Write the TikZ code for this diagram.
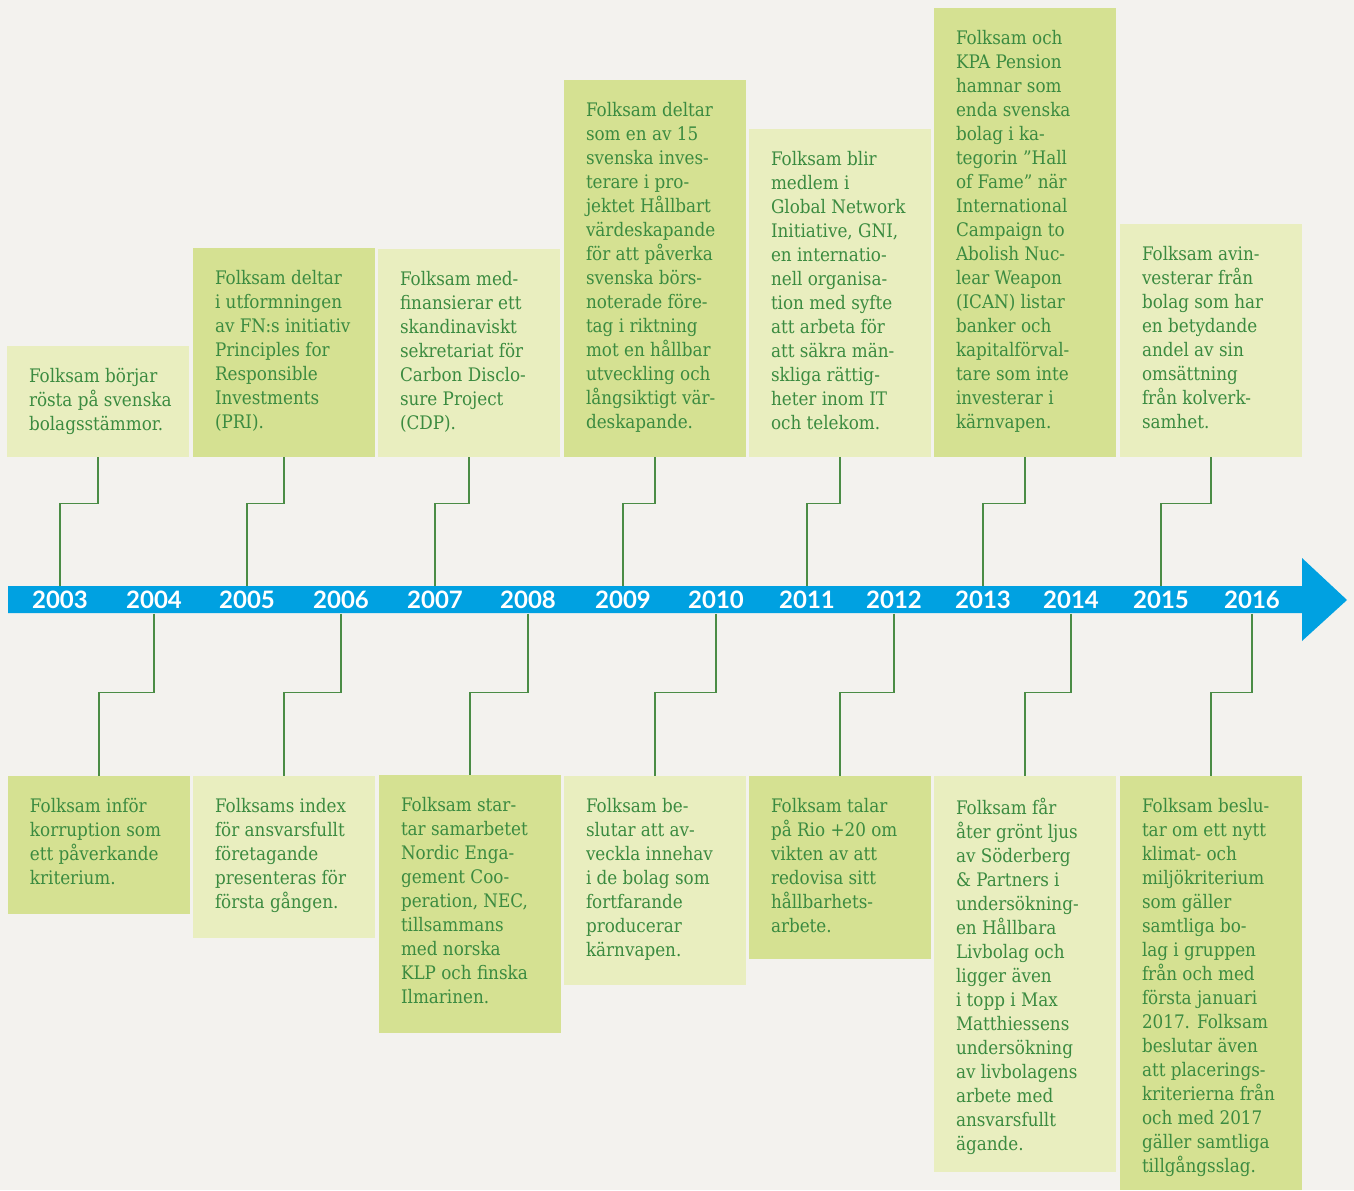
\documentclass[tikz,border=0pt]{standalone}
\usepackage{fontspec}
\newfontfamily\bodyfont{DejaVu Serif Condensed}
\newfontfamily\yearfont{Lato}
\usetikzlibrary{fit}
\definecolor{bgcol}{HTML}{F3F2EE}
\definecolor{lightbox}{HTML}{E9EEBF}
\definecolor{darkbox}{HTML}{D5E192}
\definecolor{txtgreen}{HTML}{3B8B40}
\definecolor{linkgreen}{HTML}{4A8C45}
\definecolor{axisblue}{HTML}{00A1E1}
\tikzset{
	boxlight/.style={fill=lightbox, inner sep=0pt},
	boxdark/.style={fill=darkbox, inner sep=0pt},
	txt/.style={anchor=north west, inner sep=0pt, align=left, text=txtgreen,
		font=\bodyfont\fontsize{14}{18}\selectfont},
	year/.style={text=white, inner sep=0pt, minimum height=20pt,
		font=\yearfont\bfseries\fontsize{18}{18}\selectfont},
	link/.style={draw=linkgreen, line width=1.1pt}
}

\begin{document}
\begin{tikzpicture}[x=0.75pt, y=-0.75pt]
	% IMAGE SIZE
	\useasboundingbox (0,0) rectangle (1354,1190);
	\fill[bgcol] (0,0) rectangle (1354,1190);
	
	% Upper boxes
	\node[boxlight, fit={(7,346) (189,457)}] (b03) {};
	\node[boxdark, fit={(193,248) (375,457)}] (b05) {};
	\node[boxlight, fit={(378,249) (560,457)}] (b07) {};
	\node[boxdark, fit={(564,80) (746,457)}] (b09) {};
	\node[boxlight, fit={(749,129) (931,457)}] (b11) {};
	\node[boxdark, fit={(934,8) (1116,457)}] (b13) {};
	\node[boxlight, fit={(1120,224) (1302,457)}] (b15) {};
	
	% Lower boxes
	\node[boxdark, fit={(8,776) (190,914)}] (b04) {};
	\node[boxlight, fit={(193,776) (375,938)}] (b06) {};
	\node[boxdark, fit={(379,775) (561,1033)}] (b08) {};
	\node[boxlight, fit={(564,776) (746,985)}] (b10) {};
	\node[boxdark, fit={(749,776) (931,959)}] (b12) {};
	\node[boxlight, fit={(934,776) (1116,1172)}] (b14) {};
	\node[boxdark, fit={(1120,776) (1302,1190)}] (b16) {};
	
	% Texts, upper row
	\node[txt] (t03) at ([shift={(22,22)}]b03.north west) {Folksam börjar\\rösta på svenska\\bolagsstämmor.};
	\node[txt] (t05) at ([shift={(22,22)}]b05.north west) {Folksam deltar\\i utformningen\\av FN:s initiativ\\Principles for\\Responsible\\Investments\\(PRI).};
	\node[txt] (t07) at ([shift={(22,22)}]b07.north west) {Folksam med-\\finansierar ett\\skandinaviskt\\sekretariat för\\Carbon Disclo-\\sure Project\\(CDP).};
	\node[txt] (t09) at ([shift={(22,22)}]b09.north west) {Folksam deltar\\som en av 15\\svenska inves-\\terare i pro-\\jektet Hållbart\\värdeskapande\\för att påverka\\svenska börs-\\noterade före-\\tag i riktning\\mot en hållbar\\utveckling och\\långsiktigt vär-\\deskapande.};
	\node[txt] (t11) at ([shift={(22,22)}]b11.north west) {Folksam blir\\medlem i\\Global Network\\Initiative, GNI,\\en internatio-\\nell organisa-\\tion med syfte\\att arbeta för\\att säkra män-\\skliga rättig-\\heter inom IT\\och telekom.};
	\node[txt] (t13) at ([shift={(22,22)}]b13.north west) {Folksam och\\KPA Pension\\hamnar som\\enda svenska\\bolag i ka-\\tegorin ”Hall\\of Fame” när\\International\\Campaign to\\Abolish Nuc-\\lear Weapon\\(ICAN) listar\\banker och\\kapitalförval-\\tare som inte\\investerar i\\kärnvapen.};
	\node[txt] (t15) at ([shift={(22,22)}]b15.north west) {Folksam avin-\\vesterar från\\bolag som har\\en betydande\\andel av sin\\omsättning\\från kolverk-\\samhet.};
	
	% Texts, lower row
	\node[txt] (t04) at ([shift={(22,22)}]b04.north west) {Folksam inför\\korruption som\\ett påverkande\\kriterium.};
	\node[txt] (t06) at ([shift={(22,22)}]b06.north west) {Folksams index\\för ansvarsfullt\\företagande\\presenteras för\\första gången.};
	\node[txt] (t08) at ([shift={(22,22)}]b08.north west) {Folksam star-\\tar samarbetet\\Nordic Enga-\\gement Coo-\\peration, NEC,\\tillsammans\\med norska\\KLP och finska\\Ilmarinen.};
	\node[txt] (t10) at ([shift={(22,22)}]b10.north west) {Folksam be-\\slutar att av-\\veckla innehav\\i de bolag som\\fortfarande\\producerar\\kärnvapen.};
	\node[txt] (t12) at ([shift={(22,22)}]b12.north west) {Folksam talar\\på Rio +20 om\\vikten av att\\redovisa sitt\\hållbarhets-\\arbete.};
	\node[txt] (t14) at ([shift={(22,22)}]b14.north west) {Folksam får\\åter grönt ljus\\av Söderberg\\\& Partners i\\undersökning-\\en Hållbara\\Livbolag och\\ligger även\\i topp i Max\\Matthiessens\\undersökning\\av livbolagens\\arbete med\\ansvarsfullt\\ägande.};
	\node[txt] (t16) at ([shift={(22,22)}]b16.north west) {Folksam beslu-\\tar om ett nytt\\klimat- och\\miljökriterium\\som gäller\\samtliga bo-\\lag i gruppen\\från och med\\första januari\\2017. Folksam\\beslutar även\\att placerings-\\kriterierna från\\och med 2017\\gäller samtliga\\tillgångsslag.};
	
	% Years
	\foreach \yr/\xx in {2003/60, 2004/154, 2005/247, 2006/341, 2007/435, 2008/528, 2009/623, 2010/716, 2011/807, 2012/894, 2013/983, 2014/1071, 2015/1161, 2016/1252}
	{
		\node[year] (y\yr) at (\xx,600) {\phantom{\yr}};
	}
	
	% Connectors
	\foreach \b/\y in {b03/y2003, b05/y2005, b07/y2007, b09/y2009, b11/y2011, b13/y2013, b15/y2015}
	{
		\draw[link] (\b.south) -- ++(0,46) -| (\y.north);
	}
	\foreach \b/\y in {b04/y2004, b06/y2006, b08/y2008, b10/y2010, b12/y2012, b14/y2014, b16/y2016}
	{
		\draw[link] (\y.south) -- ++(0,79) -| (\b.north);
	}
	
	% Time axis
	\fill[axisblue] (8,586) -- (1302,586) -- (1302,558) -- (1347,600) -- (1302,641) -- (1302,613) -- (8,613) -- cycle;
	\foreach \yr/\xx in {2003/60, 2004/154, 2005/247, 2006/341, 2007/435, 2008/528, 2009/623, 2010/716, 2011/807, 2012/894, 2013/983, 2014/1071, 2015/1161, 2016/1252}
	{
		\node[year] at (y\yr) {\yr};
	}
\end{tikzpicture}
\end{document}
